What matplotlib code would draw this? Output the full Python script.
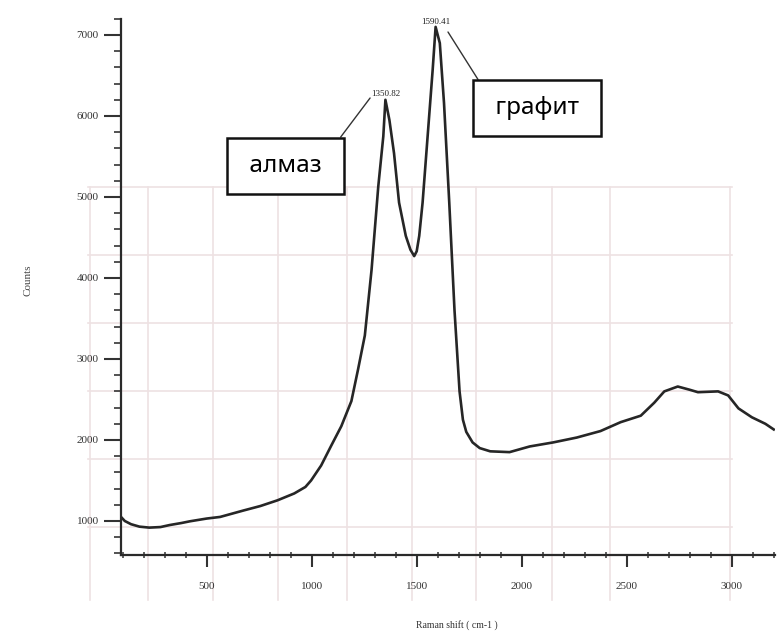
import matplotlib
matplotlib.use('Agg')
import matplotlib.pyplot as plt
from matplotlib.lines import Line2D
from matplotlib.ticker import FixedLocator, MultipleLocator

# Raman spectrum
shift = [92, 110, 140, 180, 227, 280, 324, 380, 420, 500, 564, 620, 676, 756,
         837, 917, 970, 997, 1045, 1093, 1141, 1189, 1221, 1253, 1285, 1317,
         1341, 1351, 1370, 1392, 1416, 1448, 1470, 1488, 1500, 1512, 1528,
         1552, 1576, 1590, 1610, 1630, 1655, 1680, 1704, 1720, 1736, 1766,
         1800, 1850, 1942, 2038, 2150, 2262, 2375, 2471, 2567, 2631, 2679,
         2743, 2800, 2839, 2935, 2983, 3032, 3096, 3160, 3200]
counts = [1050, 1000, 960, 930, 918, 925, 950, 975, 996, 1030, 1050, 1090, 1130,
          1185, 1255, 1340, 1420, 1500, 1685, 1930, 2170, 2480, 2875, 3290,
          4100, 5130, 5750, 6200, 5950, 5540, 4930, 4520, 4350, 4270, 4330,
          4520, 4930, 5750, 6570, 7100, 6900, 6160, 4930, 3600, 2600, 2250,
          2100, 1970, 1900, 1860, 1850, 1920, 1970, 2030, 2110, 2220, 2300,
          2460, 2600, 2660, 2620, 2590, 2600, 2550, 2390, 2280, 2200, 2130]

peak_pos = [1350.82, 1590.41]
peak_cnt = [6200, 7100]
peak_names = ['алмаз', 'графит']

W, H = 781, 634
fig = plt.figure(figsize=(W / 100, H / 100), dpi=100)

# faint bleed-through table from the back of the scanned page
tcol = '#eee2e3'
for yp in [187, 255, 323, 391, 459, 527]:
    fig.add_artist(Line2D([88 / W, 732 / W], [1 - yp / H, 1 - yp / H], color=tcol, lw=1.2, zorder=0))
for xp in [90, 148, 213, 278, 347, 412, 476, 552, 610, 730]:
    fig.add_artist(Line2D([xp / W, xp / W], [1 - 187 / H, 1 - 600 / H], color=tcol, lw=1.2, zorder=0))

ax = fig.add_axes([121 / W, 1 - 555 / H, 654 / W, 555 / H])
ax.patch.set_alpha(0)

ax.plot(shift, counts, color='#262626', lw=1.9)

ax.set_xlim(92, 3206)
ax.set_ylim(580, 7432)

for s in ['top', 'right']:
    ax.spines[s].set_visible(False)
ax.spines['left'].set_bounds(580, 7200)
for s in ['left', 'bottom']:
    ax.spines[s].set_color('#2a2a2a')
    ax.spines[s].set_linewidth(1.6)

ax.set_xticks([500, 1000, 1500, 2000, 2500, 3000])
ax.xaxis.set_minor_locator(MultipleLocator(100))
ax.set_yticks([1000, 2000, 3000, 4000, 5000, 6000, 7000])
ax.yaxis.set_minor_locator(FixedLocator(list(range(600, 7201, 200))))

serif = 'Liberation Serif'
ax.tick_params(axis='y', which='major', direction='out', length=12, width=1.5,
               color='#333333', pad=4, labelsize=8, labelcolor='#333333')
ax.tick_params(axis='y', which='minor', direction='out', length=5, width=1.3, color='#444444')
ax.tick_params(axis='x', which='major', direction='out', length=8.5, width=1.5,
               color='#333333', pad=11, labelsize=8, labelcolor='#333333')
ax.tick_params(axis='x', which='minor', direction='inout', length=5, width=1.2, color='#444444')
for lab in ax.get_xticklabels() + ax.get_yticklabels():
    lab.set_family(serif)

ax.set_xlabel('Raman shift ( cm-1 )', fontsize=7, family=serif, color='#333333')
ax.xaxis.set_label_coords(0.514, -0.117)
ax.set_ylabel('Counts', fontsize=8, family=serif, color='#444444')
ax.yaxis.set_label_coords(-0.135, 0.495)

# peak position labels
for p, c in zip(peak_pos, peak_cnt):
    ax.annotate('%.2f' % p, xy=(p, c), xytext=(0, 1), textcoords='offset points',
                ha='center', va='bottom', fontsize=6.5, family=serif, color='#222222')

# boxed names with leader lines
box = dict(boxstyle='square,pad=0.66', fc='white', ec='#111111', lw=1.8)
ax.annotate(' ' + peak_names[0] + ' ', xy=(1278, 6222), xytext=(-61, -49), textcoords='offset points',
            ha='center', va='center', fontsize=17.5, family='Noto Sans', bbox=box,
            arrowprops=dict(arrowstyle='-', color='#333333', lw=1, relpos=(1, 1),
                            shrinkA=0, shrinkB=0))
ax.annotate(' ' + peak_names[1] + ' ', xy=(1649, 7037), xytext=(64, -55), textcoords='offset points',
            ha='center', va='center', fontsize=17.5, family='Noto Sans', bbox=box,
            arrowprops=dict(arrowstyle='-', color='#333333', lw=1, relpos=(0, 1),
                            shrinkA=0, shrinkB=0))

fig.savefig('out.png', dpi=100)
